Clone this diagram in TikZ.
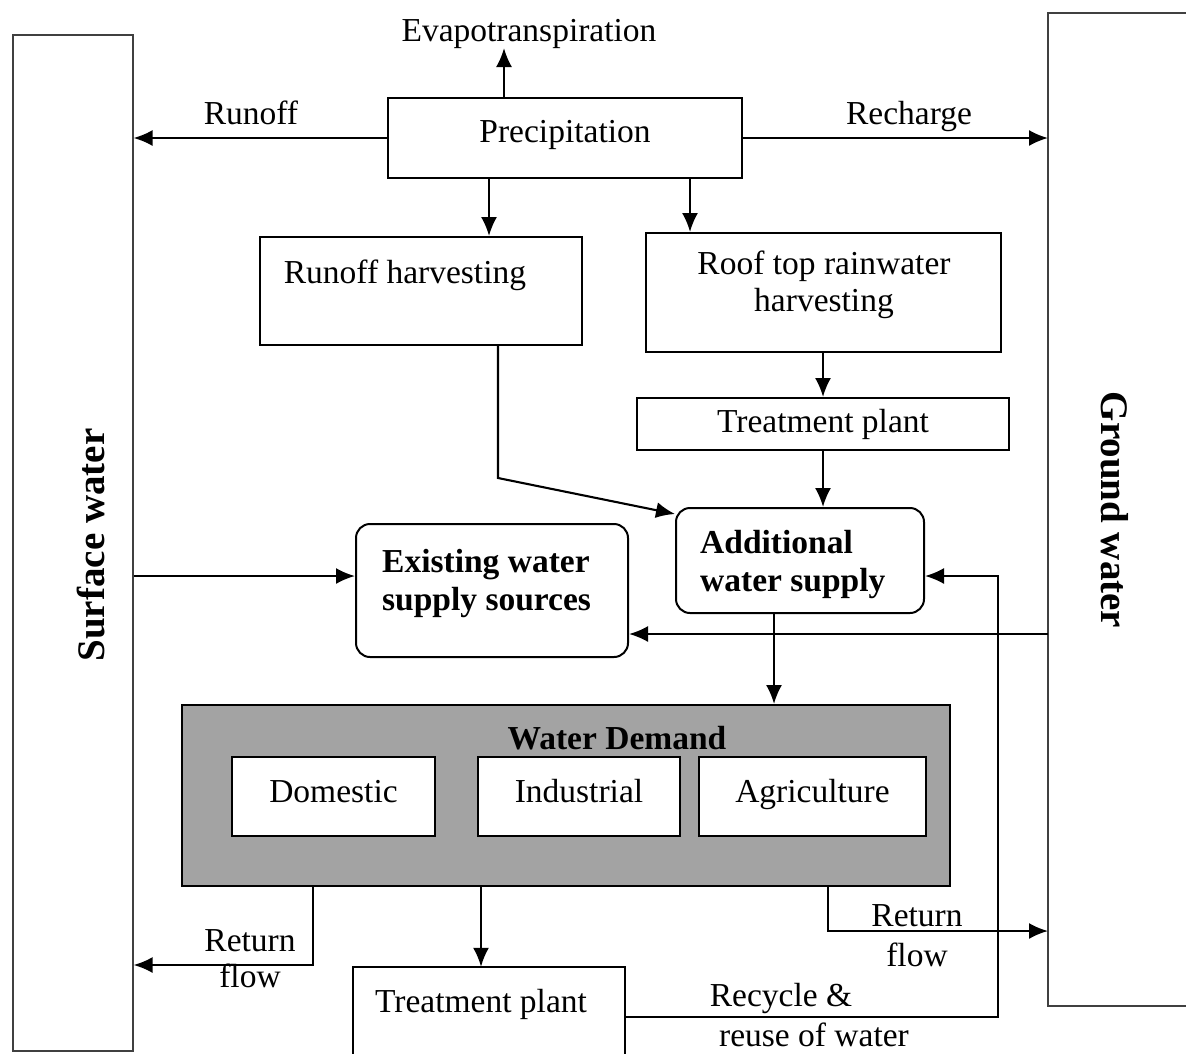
\documentclass[tikz,border=0pt]{standalone}
\usepackage{fontspec}
\setmainfont{Liberation Serif}
\usetikzlibrary{arrows.meta,calc}
\begin{document}
\begin{tikzpicture}[x=1pt,y=-1pt,
  font=\fontsize{33.5}{37}\selectfont,
  box/.style={draw, line width=2pt, inner sep=0pt},
  rbox/.style={box, rounded corners=14pt},
  side/.style={draw=black!75, line width=1.1pt},
  arr/.style={line width=2.1pt, -{Latex[length=19pt,width=16pt]}},
  lbl/.style={inner sep=0pt, text height=23pt, text depth=7pt, yshift=-3.5pt},
  bold/.style={font=\fontsize{33.5}{38}\selectfont\bfseries},
  sidelbl/.style={inner sep=0pt, font=\fontsize{39}{44}\selectfont\bfseries},
]
\useasboundingbox (0,0) rectangle (1186,1053);
\fill[white] (0,0) rectangle (1186,1053);

% side reservoirs
\node[side, minimum width=120, minimum height=1016, inner sep=0pt] (sw) at (73,543) {};
\node[sidelbl, rotate=90] (swt) at (91,545) {Surface water};
\coordinate (gwL) at (1048,13);
\coordinate (gwB) at (1048,1006);
\draw[side] (1195,13) -- (gwL) -- (gwB) -- (1195,1006);
\node[sidelbl, rotate=-90] (gwt) at (1115,510) {Ground water};

% top
\node[box, minimum width=354, minimum height=80] (prec) at (565,138) {};
\node[lbl] (prect) at (565,131) {Precipitation};
\node[lbl] (evap) at (529,30) {Evapotranspiration};
\coordinate (evin) at (504,48);
\draw[arr] (prec.north -| evin) -- (evin);
\draw[arr] (prec.west) -- (prec.west -| sw.east);
\draw[arr] (prec.east) -- (prec.east -| gwL);
\node[lbl] (runoff) at (251,113) {Runoff};
\node[lbl] (recharge) at (909,113) {Recharge};

% harvesting
\node[box, minimum width=322, minimum height=108] (rh) at (421,291) {};
\node[lbl] (rht) at (405,272) {Runoff harvesting};
\node[box, minimum width=355, minimum height=119] (roof) at (823.5,292.5) {};
\node[inner sep=0pt, align=center, yshift=-2pt] (rooft) at (824,283) {Roof top rainwater\\harvesting};
\coordinate (pa) at (489,0);
\coordinate (pb) at (690,0);
\draw[arr] (prec.south -| pa) -- (rh.north -| pa);
\draw[arr] (prec.south -| pb) -- (roof.north -| pb);

\node[box, minimum width=372, minimum height=52] (tp1) at (823,424) {};
\node[lbl] (tp1t) at (823,421) {Treatment plant};
\draw[arr] (roof.south -| tp1.north) -- (tp1.north);

% supplies
\node[rbox, minimum width=248, minimum height=105] (add) at (800,560.5) {};
\node[inner sep=0pt, bold, align=left, anchor=west, yshift=-2pt] (addt) at (700,562) {Additional\\water supply};
\node[rbox, minimum width=272, minimum height=133] (exist) at (492,590.5) {};
\node[inner sep=0pt, bold, align=left, anchor=west, yshift=-2pt] (existt) at (382,581) {Existing water\\supply sources};

\draw[arr] (tp1.south) -- (tp1.south |- add.north);
\coordinate (bend) at (498,478);
\draw[arr] (rh.south -| bend) -- (bend) -- ([yshift=-7pt]add.north west);
\draw[arr] (sw.east |- 0,576) -- ([yshift=14.5pt]exist.west);
\draw[arr] (gwL |- 0,634) -- ([yshift=-43.5pt]exist.east);

% water demand
\node[draw, line width=2pt, fill=black!36, minimum width=768, minimum height=181, inner sep=0pt] (wd) at (566,795.5) {};
\node[lbl, bold] (wdt) at (617,738) {Water Demand};
\node[box, fill=white, minimum width=203, minimum height=79] (dom) at (333.5,796.5) {};
\node[lbl] (domt) at (333.5,791) {Domestic};
\node[box, fill=white, minimum width=202, minimum height=79] (ind) at (579,796.5) {};
\node[lbl] (indt) at (579,791) {Industrial};
\node[box, fill=white, minimum width=227, minimum height=79] (agr) at (812.5,796.5) {};
\node[lbl] (agrt) at (812.5,791) {Agriculture};

\coordinate (ad) at (774,0);
\draw[arr] (add.south -| ad) -- (wd.north -| ad);

% bottom
\node[minimum width=272, minimum height=93, inner sep=0pt] (tp2) at (489,1013.5) {};
\draw[line width=2pt] (tp2.south west) -- (tp2.north west) -- (tp2.north east) -- (tp2.south east);
\node[lbl] (tp2t) at (481,1001) {Treatment plant};
\coordinate (mid) at (481,0);
\draw[arr] (wd.south -| mid) -- (tp2.north -| mid);

\coordinate (rl) at (313,965);
\draw[arr] (wd.south -| rl) -- (rl) -- (rl -| sw.east);
\node[lbl] (rl1) at (250,940) {Return};
\node[lbl] (rl2) at (250,976) {flow};

\coordinate (rr) at (828,931);
\draw[arr] (wd.south -| rr) -- (rr) -- (rr -| gwL);
\node[lbl] (rr1) at (917,915) {Return};
\node[lbl] (rr2) at (917,955) {flow};

\coordinate (rc) at (998,1017);
\draw[arr] (tp2.east |- rc) -- (rc) -- (rc |- 0,576) -- ([yshift=-15.5pt]add.east);
\node[lbl] (rec1) at (781,995) {Recycle \&};
\node[lbl] (rec2) at (814,1035) {reuse of water};
\end{tikzpicture}
\end{document}
